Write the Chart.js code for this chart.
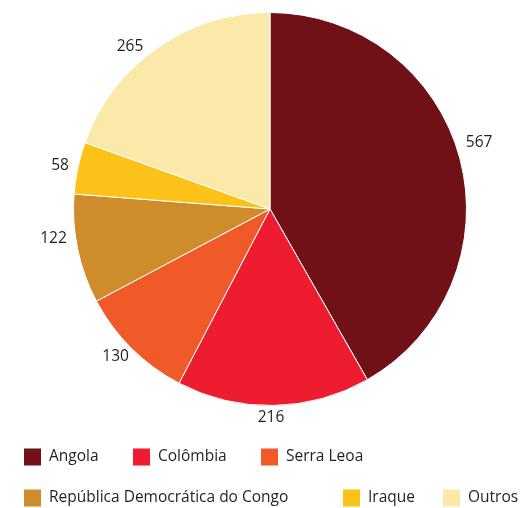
<!DOCTYPE html>
<html>
<head>
<meta charset="utf-8">
<script src="https://cdn.jsdelivr.net/npm/chart.js@4.4.1/dist/chart.umd.min.js"></script>
<style>
  html, body { margin: 0; padding: 0; background: #fff; }
  #wrap { width: 530px; height: 508px; position: relative; }
</style>
</head>
<body>
<div id="wrap"><canvas id="grafico"></canvas></div>
<script>
const paises = ['Angola', 'Colômbia', 'Serra Leoa', 'República Democrática do Congo', 'Iraque', 'Outros'];
const valores = [567, 216, 130, 122, 58, 265];
const cores = ['#6f1116', '#ed1c2e', '#f05a28', '#cf8c2a', '#fdc218', '#fbe9a9'];

// posições da legenda (x da caixa, y do centro da linha)
const legendaPos = [[24, 457], [133, 457], [261, 457], [24, 498], [343, 498], [443, 498]];
// ajuste fino dos rótulos: desvio do ângulo (graus) e distância além do raio
const rotuloAng = [-2.9, 0.8, 1.5, 4, -0.3, -5.6];
const rotuloDist = [23, 12, 17, 22, 18, 18];

const fonte = '15.5px "Open Sans", sans-serif';
const corTexto = '#231f20';

const rotulos = {
    id: 'rotulos',
    afterDatasetsDraw(chart) {
        const c = chart.ctx;
        const meta = chart.getDatasetMeta(0);
        c.save();
        c.font = fonte;
        c.fillStyle = corTexto;
        c.textBaseline = 'middle';
        c.textAlign = 'center';
        meta.data.forEach((arc, i) => {
            const p = arc.getProps(['x', 'y', 'startAngle', 'endAngle', 'outerRadius'], true);
            const meio = (p.startAngle + p.endAngle) / 2 + rotuloAng[i] * Math.PI / 180;
            const r = p.outerRadius + rotuloDist[i];
            const x = p.x + Math.cos(meio) * r;
            const y = p.y + Math.sin(meio) * r;
            c.fillText(String(valores[i]), x, y);
        });
        c.restore();
    }
};

const legenda = {
    id: 'legenda',
    afterDraw(chart) {
        const c = chart.ctx;
        c.save();
        c.font = fonte;
        c.textBaseline = 'middle';
        c.textAlign = 'left';
        paises.forEach((nome, i) => {
            const [x, y] = legendaPos[i];
            c.fillStyle = cores[i];
            c.fillRect(x, y - 8.5, 17, 17);
            c.fillStyle = corTexto;
            c.fillText(nome, x + 25, y);
        });
        c.restore();
    }
};

const ctx = document.getElementById('grafico');

const grafico = new Chart(ctx, {
    type: 'pie',
    data: {
        labels: paises,
        datasets: [{
            data: valores,
            backgroundColor: cores,
            borderColor: '#ffffff',
            borderWidth: 1
        }]
    },
    options: {
        responsive: true,
        maintainAspectRatio: false,
        animation: false,
        layout: {
            padding: { top: 11, bottom: 101, left: 73, right: 63 }
        },
        plugins: {
            legend: { display: false },
            tooltip: { enabled: false }
        }
    },
    plugins: [rotulos, legenda]
});
</script>
</body>
</html>
